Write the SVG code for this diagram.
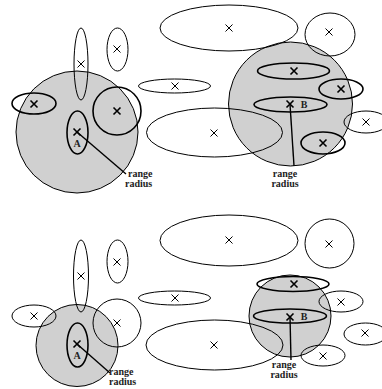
<svg xmlns="http://www.w3.org/2000/svg" width="382" height="389" viewBox="0 0 382 389">
  <defs>
    <style>
      .range { fill: #d0d0d0; stroke: #000; stroke-width: 1; }
      .thin { fill: none; stroke: #000; stroke-width: 1; }
      .thick { fill: none; stroke: #000; stroke-width: 1.6; }
      .xt { stroke: #000; stroke-width: 1; fill: none; }
      .xk { stroke: #000; stroke-width: 1.6; fill: none; }
      .radius { stroke: #000; stroke-width: 1.4; }
      .lbl { font-family: "Liberation Serif", "Times New Roman", serif; font-weight: bold; font-size: 10px; fill: #222; }
    </style>
    <path id="x" d="M-3.5,-3.5 L3.5,3.5 M-3.5,3.5 L3.5,-3.5"/>
  </defs>
  <rect width="382" height="389" fill="#fff"/>

  <!-- Upper scenario: wide range radius -->
  <g id="top">
    <g id="rangeA1"><circle class="range" cx="77" cy="132" r="61"/></g>
    <g id="rangeB1"><circle class="range" cx="290.5" cy="104" r="62"/></g>

    <g id="t1"><ellipse class="thin" cx="81" cy="64" rx="7" ry="36"/><use href="#x" x="81" y="64" class="xt"/></g>
    <g id="t2"><ellipse class="thin" cx="117.5" cy="49.5" rx="10.5" ry="21.5"/><use href="#x" x="117" y="49" class="xt"/></g>
    <g id="t3"><ellipse class="thick" cx="34" cy="103.5" rx="22" ry="10.5"/><use href="#x" x="34" y="104" class="xk"/></g>
    <g id="t4"><circle class="thick" cx="117" cy="111" r="24"/><use href="#x" x="117" y="111" class="xk"/></g>
    <g id="t5"><ellipse class="thick" cx="77.5" cy="132.5" rx="10.5" ry="21.5"/><use href="#x" x="77" y="132" class="xk"/>
      <text class="lbl" x="77" y="147" text-anchor="middle">A</text></g>
    <g id="t6"><ellipse class="thin" cx="174.5" cy="86" rx="36" ry="7"/><use href="#x" x="175" y="86" class="xt"/></g>
    <g id="t7"><ellipse class="thin" cx="229" cy="28" rx="69" ry="23"/><use href="#x" x="229" y="28" class="xt"/></g>
    <g id="t8"><ellipse class="thin" cx="214.5" cy="132.5" rx="68" ry="24.5"/><use href="#x" x="214" y="133" class="xt"/></g>
    <g id="t9"><ellipse class="thin" cx="330" cy="34.5" rx="25" ry="21.5"/><use href="#x" x="329" y="32" class="xt"/></g>
    <g id="t10"><ellipse class="thick" cx="293.5" cy="71" rx="36" ry="8"/><use href="#x" x="294" y="71" class="xk"/></g>
    <g id="t11"><ellipse class="thick" cx="341" cy="89" rx="22" ry="10"/><use href="#x" x="341" y="89" class="xk"/></g>
    <g id="t12"><ellipse class="thick" cx="290.5" cy="104.5" rx="36.5" ry="7.5"/><use href="#x" x="290" y="104" class="xk"/>
      <text class="lbl" x="304" y="108" text-anchor="middle">B</text></g>
    <g id="t13"><ellipse class="thin" cx="366" cy="122" rx="22" ry="11"/><use href="#x" x="366" y="122" class="xt"/></g>
    <g id="t14"><ellipse class="thick" cx="323" cy="143" rx="22" ry="11"/><use href="#x" x="323" y="143" class="xk"/></g>

    <g id="radiusA1">
      <line class="radius" x1="77" y1="132" x2="126" y2="174"/>
      <text class="lbl" x="128" y="177">range</text>
      <text class="lbl" x="125" y="187">radius</text>
    </g>
    <g id="radiusB1">
      <line class="radius" x1="290" y1="104" x2="294" y2="166"/>
      <text class="lbl" x="285" y="177" text-anchor="middle">range</text>
      <text class="lbl" x="285" y="187" text-anchor="middle">radius</text>
    </g>
  </g>

  <!-- Lower scenario: reduced range radius -->
  <g id="bottom">
    <g id="rangeA2"><circle class="range" cx="77" cy="345.5" r="41"/></g>
    <g id="rangeB2"><circle class="range" cx="290" cy="316" r="41"/></g>

    <g id="b1"><ellipse class="thin" cx="81" cy="276" rx="7.5" ry="36"/><use href="#x" x="81" y="276" class="xt"/></g>
    <g id="b2"><ellipse class="thin" cx="117.5" cy="261.5" rx="10.5" ry="21.5"/><use href="#x" x="117" y="262" class="xt"/></g>
    <g id="b3"><ellipse class="thin" cx="34" cy="316" rx="22" ry="11"/><use href="#x" x="34" y="316" class="xt"/></g>
    <g id="b4"><circle class="thin" cx="117" cy="323" r="24"/><use href="#x" x="117" y="323" class="xt"/></g>
    <g id="b5"><ellipse class="thick" cx="77.5" cy="345" rx="10.5" ry="22"/><use href="#x" x="77" y="344" class="xk"/>
      <text class="lbl" x="77" y="359" text-anchor="middle">A</text></g>
    <g id="b6"><ellipse class="thin" cx="174.5" cy="298" rx="36" ry="7"/><use href="#x" x="175" y="298" class="xt"/></g>
    <g id="b7"><ellipse class="thin" cx="229" cy="240.5" rx="69" ry="25.5"/><use href="#x" x="229" y="240" class="xt"/></g>
    <g id="b8"><ellipse class="thin" cx="214.5" cy="345" rx="68.5" ry="25"/><use href="#x" x="214" y="345" class="xt"/></g>
    <g id="b9"><ellipse class="thin" cx="329.5" cy="243.5" rx="24.5" ry="24.5"/><use href="#x" x="329" y="244" class="xt"/></g>
    <g id="b10"><ellipse class="thick" cx="293" cy="284" rx="36" ry="7.5"/><use href="#x" x="294" y="284" class="xk"/></g>
    <g id="b11"><ellipse class="thin" cx="341" cy="301.5" rx="22" ry="10.5"/><use href="#x" x="341" y="302" class="xt"/></g>
    <g id="b12"><ellipse class="thick" cx="290" cy="316" rx="36.5" ry="7"/><use href="#x" x="290" y="317" class="xk"/>
      <text class="lbl" x="304" y="320" text-anchor="middle">B</text></g>
    <g id="b13"><ellipse class="thin" cx="365.5" cy="334" rx="21.5" ry="11"/><use href="#x" x="365" y="333" class="xt"/></g>
    <g id="b14"><ellipse class="thin" cx="323" cy="355.5" rx="22" ry="10.5"/><use href="#x" x="323" y="356" class="xt"/></g>

    <g id="radiusA2">
      <line class="radius" x1="77" y1="344" x2="110" y2="373"/>
      <text class="lbl" x="109" y="375">range</text>
      <text class="lbl" x="109" y="385">radius</text>
    </g>
    <g id="radiusB2">
      <line class="radius" x1="290" y1="317" x2="291" y2="360"/>
      <text class="lbl" x="284" y="368" text-anchor="middle">range</text>
      <text class="lbl" x="284" y="378" text-anchor="middle">radius</text>
    </g>
  </g>
</svg>
